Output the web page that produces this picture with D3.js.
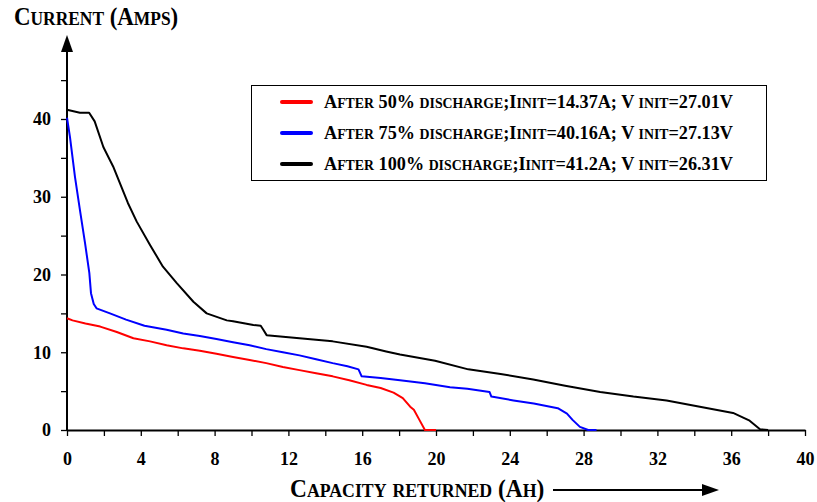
<!DOCTYPE html>
<html>
<head>
<meta charset="utf-8">
<script src="https://cdn.jsdelivr.net/npm/d3@7"></script>
<style>
  body { margin: 0; background: #fff; }
  svg text { font-family: "Liberation Serif", "Times New Roman", serif; font-weight: bold; }
</style>
</head>
<body>
<svg width="817" height="502"></svg>
<script>
// readings: [capacity Ah, current A]
const after50 = [
  [0, 14.37], [0.3, 14.1], [1.0, 13.7], [1.8, 13.3], [2.7, 12.6], [3.6, 11.8],
  [4.5, 11.4], [5.4, 10.9], [6.3, 10.5], [7.2, 10.2], [8.1, 9.8], [9.0, 9.4],
  [9.9, 9.0], [10.8, 8.6], [11.7, 8.1], [12.6, 7.7], [13.5, 7.3], [14.4, 6.9],
  [15.3, 6.4], [16.24, 5.8], [17.0, 5.4], [17.7, 4.8], [18.2, 4.1], [18.6, 3.0],
  [18.8, 2.6], [19.1, 1.3], [19.4, 0], [20.0, 0]
];
const after75 = [
  [0, 40.16], [0.16, 37.7], [0.43, 32.6], [0.7, 28.3], [0.98, 24.0], [1.21, 20.2],
  [1.3, 17.6], [1.45, 16.2], [1.6, 15.65], [2.33, 15.0], [3.2, 14.2], [4.2, 13.4],
  [5.4, 12.9], [6.3, 12.4], [7.2, 12.1], [8.1, 11.7], [9.0, 11.3], [9.9, 10.9],
  [10.8, 10.4], [11.7, 10.0], [12.6, 9.6], [13.5, 9.1], [14.4, 8.6], [15.2, 8.2],
  [15.8, 7.8], [15.97, 6.9], [17.0, 6.7], [18.05, 6.4], [19.4, 6.0], [20.76, 5.5],
  [21.7, 5.3], [22.9, 4.9], [23.0, 4.3], [24.2, 3.8], [25.3, 3.4], [26.6, 2.8],
  [27.1, 2.1], [27.4, 1.3], [27.8, 0.4], [28.25, 0], [28.7, 0]
];
const after100 = [
  [0, 41.2], [0.7, 40.8], [1.2, 40.8], [1.5, 39.7], [1.97, 36.4], [2.5, 33.9],
  [3.3, 29.2], [3.78, 26.8], [4.5, 23.8], [5.2, 21.0], [5.95, 18.9], [6.85, 16.5],
  [7.57, 15.0], [8.66, 14.1], [9.0, 14.0], [10.1, 13.5], [10.5, 13.4], [10.64, 12.9],
  [10.82, 12.2], [12.6, 11.8], [14.4, 11.4], [16.24, 10.7], [17.3, 10.1], [18.05, 9.7],
  [19.95, 8.9], [21.75, 7.8], [23.5, 7.2], [25.27, 6.5], [27.0, 5.7], [28.9, 4.9],
  [30.7, 4.3], [32.5, 3.8], [34.3, 3.0], [36.1, 2.2], [36.65, 1.6], [37.0, 1.2],
  [37.56, 0.1], [38.0, 0]
];

const seriesColors = ['#ff0000', '#0000ff', '#000000'];
const legendLabels = [
  'After 50% discharge;Iinit=14.37A; V init=27.01V',
  'After 75% discharge;Iinit=40.16A; V init=27.13V',
  'After 100% discharge;Iinit=41.2A; V init=26.31V'
];
const xTickLabels = [0, 4, 8, 12, 16, 20, 24, 28, 32, 36, 40];
const yTickLabels = [0, 10, 20, 30, 40];

const svg = d3.select('svg');

// small caps by hand: lowercase runs are upper-cased in a smaller tspan
function smallCaps(sel, str, size) {
  const runs = str.match(/[a-z]+|[^a-z]+/g);
  runs.forEach((r) => {
    const lower = /^[a-z]/.test(r);
    sel.append('tspan')
        .attr('font-size', lower ? size * 0.76 : size)
        .text(lower ? r.toUpperCase() : r);
  });
}

// plot area
const x = d3.scaleLinear().domain([0, 40]).range([67, 805]);
const y = d3.scaleLinear().domain([0, 40]).range([430, 119]);

// x axis
svg.append('g')
    .attr('transform', `translate(0, ${y(0)})`)
    .call(d3.axisBottom(x).tickValues(d3.range(0, 41, 2)).tickSize(6).tickSizeOuter(0)
      .tickFormat((d) => xTickLabels.includes(d) ? d : ''))
    .call((g) => {
      g.select('.domain').attr('stroke-width', 2);
      g.selectAll('.tick line').attr('stroke-width', 1.3);
      g.selectAll('.tick text').attr('font-size', 18).attr('y', 35).attr('dy', 0)
        .attr('font-family', '"Liberation Serif", serif').attr('font-weight', 'bold');
    });

// y axis
svg.append('g')
    .attr('transform', `translate(${x(0)}, 0)`)
    .call(d3.axisLeft(y).tickValues(d3.range(0, 46, 5)).tickSize(6).tickSizeOuter(0)
      .tickFormat((d) => yTickLabels.includes(d) ? d : ''))
    .call((g) => {
      g.select('.domain').remove();
      g.selectAll('.tick line').attr('stroke-width', 1.3);
      g.selectAll('.tick text').attr('font-size', 18).attr('dx', -7)
        .attr('font-family', '"Liberation Serif", serif').attr('font-weight', 'bold');
    });

svg.append('line')
    .attr('x1', x(0)).attr('x2', x(0))
    .attr('y1', y(0) + 1).attr('y2', 50)
    .attr('stroke', '#000').attr('stroke-width', 2);

svg.append('path')
    .attr('d', `M${x(0)},35 L${x(0) - 6},52 L${x(0) + 6},52 Z`)
    .attr('fill', '#000');

// the curves
const line = d3.line()
    .x((d) => x(d[0]))
    .y((d) => y(d[1]));

[after50, after75, after100].forEach((s, i) => {
  svg.append('path')
      .datum(s)
      .attr('d', line)
      .attr('fill', 'none')
      .attr('stroke', seriesColors[i])
      .attr('stroke-width', 2)
      .attr('stroke-linejoin', 'round');
});

// legend
const legend = svg.append('g');
legend.append('rect')
    .attr('x', 251.5).attr('y', 85.5)
    .attr('width', 515).attr('height', 95)
    .attr('fill', '#fff').attr('stroke', '#000').attr('stroke-width', 1);

legendLabels.forEach((t, i) => {
  const ly = 102 + i * 31;
  legend.append('line')
      .attr('x1', 282).attr('x2', 311)
      .attr('y1', ly).attr('y2', ly)
      .attr('stroke', seriesColors[i]).attr('stroke-width', 4)
      .attr('stroke-linecap', 'round');
  legend.append('text')
      .attr('transform', `translate(324, ${ly + 6}) scale(1, 1.06)`)
      .call(smallCaps, t, 18.2);
});

// axis titles
svg.append('text')
    .attr('transform', 'translate(14, 25) scale(1, 1.07)')
    .call(smallCaps, 'Current (Amps)', 22.9);

svg.append('text')
    .attr('transform', 'translate(290, 497) scale(1, 1.07)')
    .call(smallCaps, 'Capacity returned (Ah)', 23.4);

svg.append('line')
    .attr('x1', 553).attr('x2', 705)
    .attr('y1', 490).attr('y2', 490)
    .attr('stroke', '#000').attr('stroke-width', 2);

svg.append('path')
    .attr('d', 'M719,490 L702,484 L702,496 Z')
    .attr('fill', '#000');
</script>
</body>
</html>
